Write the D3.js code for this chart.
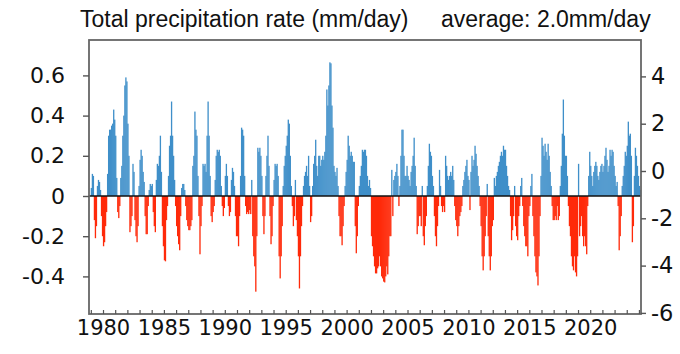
<!DOCTYPE html>
<html><head><meta charset="utf-8">
<script src="https://cdn.jsdelivr.net/npm/d3@7"></script>
<style>
html,body{margin:0;padding:0;background:#fff;}
svg{display:block;}
</style></head>
<body><svg id="c" width="680" height="354"></svg>
<script>
// ---- data ----
const startYear = 1979; // first month = Jan 1979
const titleLeft = "Total precipitation rate (mm/day)";
const titleRight = "average: 2.0mm/day";
const leftTicks = [-0.4, -0.2, 0, 0.2, 0.4, 0.6];
const rightTicks = [-6, -4, -2, 0, 2, 4];
const yearLabels = [1980, 1985, 1990, 1995, 2000, 2005, 2010, 2015, 2020];
// monthly anomalies (mm/day), one row per year
const y1979 = [0.04, 0.11, 0.1, -0.12, -0.21, -0.15, 0.05, 0.08, 0.07, 0.03, -0.1, -0.2];
const y1980 = [-0.25, -0.23, -0.15, -0.08, 0.11, 0.3, 0.33, 0.33, 0.35, 0.36, 0.43, 0.38];
const y1981 = [0.3, 0.09, -0.08, -0.11, -0.05, 0.09, 0.15, 0.3, 0.4, 0.55, 0.59, 0.57];
const y1982 = [0.36, 0.2, -0.18, -0.15, -0.1, 0.16, 0.12, -0.12, -0.2, -0.23, -0.15, 0.05];
const y1983 = [0.18, 0.23, 0.2, 0.12, 0.07, -0.1, -0.19, -0.19, -0.05, 0.03, 0.06, 0.05];
const y1984 = [0.06, -0.08, -0.15, -0.18, 0.08, 0.16, 0.15, 0.2, 0.3, 0.12, -0.15, -0.25];
const y1985 = [-0.32, -0.325, -0.12, -0.05, 0.1, 0.25, 0.3, 0.47, 0.3, 0.2, 0.08, -0.05];
const y1986 = [-0.15, -0.2, -0.24, -0.27, -0.1, 0.04, 0.06, 0.06, 0.03, -0.05, -0.12, -0.15];
const y1987 = [-0.17, -0.17, -0.15, -0.12, 0.15, 0.2, 0.42, 0.33, 0.3, 0.1, -0.1, -0.29];
const y1988 = [-0.15, -0.05, 0.16, 0.15, 0.16, 0.12, 0.3, 0.47, 0.3, 0.1, -0.1, -0.13];
const y1989 = [-0.08, -0.05, 0.08, 0.2, 0.23, 0.22, 0.23, 0.2, 0.05, -0.05, -0.1, -0.06];
const y1990 = [0.1, 0.16, 0.1, -0.05, -0.1, -0.08, 0.08, 0.14, 0.12, 0.05, -0.1, -0.2];
const y1991 = [-0.2, -0.25, -0.1, 0.1, 0.34, 0.33, 0.3, 0.1, -0.05, -0.09, -0.08, -0.09];
const y1992 = [-0.07, -0.09, 0.08, -0.2, -0.3, -0.35, -0.476, -0.2, 0.24, 0.22, 0.24, 0.2];
const y1993 = [0.1, -0.1, -0.19, -0.1, 0.1, 0.2, 0.3, 0.15, -0.1, -0.24, -0.2, -0.05];
const y1994 = [0.08, 0.16, 0.15, 0.16, 0.1, -0.3, -0.41, -0.3, -0.15, 0.05, 0.15, 0.2];
const y1995 = [0.25, 0.3, 0.38, 0.36, 0.2, 0.05, -0.05, -0.15, -0.1, 0.08, -0.12, -0.2];
const y1996 = [-0.3, -0.46, -0.3, -0.15, -0.05, 0.05, 0.1, 0.12, 0.15, 0.1, 0.2, 0.05];
const y1997 = [-0.13, -0.1, 0.05, 0.16, 0.2, 0.28, 0.15, 0.1, 0.2, 0.2, 0.15, 0.18];
const y1998 = [0.2, 0.18, 0.22, 0.3, 0.53, 0.45, 0.55, 0.665, 0.66, 0.45, 0.34, 0.15];
const y1999 = [0.12, 0.1, 0.14, 0.05, -0.1, -0.2, -0.2, -0.245, -0.15, -0.05, 0.05, 0.12];
const y2000 = [0.18, 0.3, 0.25, 0.2, 0.22, 0.2, 0.17, 0.17, -0.15, -0.285, -0.2, -0.05];
const y2001 = [0.05, 0.1, 0.15, 0.23, 0.22, 0.23, 0.23, 0.2, 0.1, 0.05, 0.08, 0.04];
const y2002 = [-0.2, -0.25, -0.3, -0.35, -0.385, -0.385, -0.36, -0.35, -0.3, -0.35, -0.4, -0.41];
const y2003 = [-0.426, -0.43, -0.4, -0.35, -0.39, -0.3, -0.2, -0.2, 0.13, -0.1, 0.08, 0.1];
const y2004 = [0.12, 0.16, 0.1, -0.05, 0.05, 0.2, 0.33, 0.33, 0.2, 0.1, 0.1, 0.15];
const y2005 = [0.1, 0.08, 0.05, 0.12, 0.15, 0.2, 0.29, 0.15, 0.05, -0.19, -0.15, -0.1];
const y2006 = [-0.1, -0.15, 0.05, -0.2, -0.245, -0.15, -0.1, 0.05, 0.15, 0.26, 0.22, 0.2];
const y2007 = [0.1, 0.05, -0.1, -0.2, -0.25, -0.15, -0.05, 0.13, 0.05, -0.05, -0.08, -0.05];
const y2008 = [-0.08, 0.2, 0.15, 0.1, 0.08, 0.1, 0.12, 0.1, 0.15, 0.08, -0.05, -0.12];
const y2009 = [-0.15, -0.2, -0.15, -0.1, -0.08, -0.05, 0.05, 0.08, 0.12, 0.15, 0.18, 0.1];
const y2010 = [0.08, -0.07, 0.12, 0.2, 0.15, 0.18, 0.25, 0.21, 0.15, 0.1, 0.05, -0.05];
const y2011 = [-0.15, -0.3, -0.37, -0.3, -0.2, -0.1, 0.06, -0.2, -0.3, -0.37, -0.3, -0.15];
const y2012 = [-0.12, 0.09, 0.05, 0.1, 0.12, 0.15, 0.17, 0.2, 0.22, 0.2, 0.25, 0.23];
const y2013 = [0.23, 0.15, 0.1, 0.05, 0.03, -0.1, -0.22, -0.17, -0.1, 0.05, -0.15, -0.2];
const y2014 = [-0.22, -0.1, -0.05, 0.05, 0.09, -0.05, -0.15, -0.2, -0.25, -0.25, -0.3, -0.1];
const y2015 = [-0.05, 0.05, 0.11, -0.1, -0.2, -0.3, -0.38, -0.4, -0.445, -0.3, -0.1, 0.1];
const y2016 = [0.29, 0.25, 0.2, 0.26, 0.22, 0.18, 0.26, 0.2, 0.12, 0.05, -0.05, -0.12];
const y2017 = [-0.12, -0.1, -0.12, -0.05, -0.12, -0.1, 0.05, 0.15, 0.31, 0.48, 0.3, 0.2];
const y2018 = [0.2, 0.1, -0.05, -0.15, -0.2, -0.3, -0.35, -0.37, -0.3, -0.38, -0.4, -0.3];
const y2019 = [0.16, -0.2, -0.15, -0.1, -0.2, -0.25, -0.2, -0.25, -0.29, -0.05, 0.1, 0.22];
const y2020 = [0.15, 0.1, 0.05, 0.12, 0.15, 0.17, 0.15, 0.1, 0.08, 0.12, 0.15, 0.16];
const y2021 = [0.12, 0.15, 0.2, 0.24, 0.18, 0.12, 0.15, 0.23, 0.2, 0.23, 0.22, 0.15];
const y2022 = [0.1, 0.05, 0.07, -0.05, -0.27, -0.2, -0.1, 0.05, 0.1, 0.15, 0.22, 0.2];
const y2023 = [0.25, 0.37, 0.3, 0.31, 0.2, -0.23, -0.15, 0.1, 0.24, 0.2, 0.15, 0.1];
const y2024 = [0.05, 0.03];

const years = [y1979,y1980,y1981,y1982,y1983,y1984,y1985,y1986,y1987,y1988,y1989,y1990,
  y1991,y1992,y1993,y1994,y1995,y1996,y1997,y1998,y1999,y2000,y2001,y2002,y2003,y2004,
  y2005,y2006,y2007,y2008,y2009,y2010,y2011,y2012,y2013,y2014,y2015,y2016,y2017,y2018,
  y2019,y2020,y2021,y2022,y2023,y2024];
const monthly = [];
years.forEach((arr, i) => arr.forEach((v, j) => monthly.push({t: startYear + i + j/12, v})));

// ---- layout ----
const L = 89, R = 641, T = 40, B = 314;
const svg = d3.select("#c");
const x = d3.scaleLinear().domain([1978.85, 2024.17]).range([L, R]);
const y = d3.scaleLinear().domain([-(B-196)/201, (196-T)/201]).range([B, T]);
const y2 = d3.scaleLinear().domain([-(B-171)/23.65, (171-T)/23.65]).range([B, T]);

const BLUE = "#3f8fc9", RED = "#ff2a0a";
const g = svg.append("g");
g.selectAll("rect.bar").data(monthly).join("rect")
  .attr("class","bar")
  .attr("x", d => x(d.t) - 0.1)
  .attr("width", d => x(d.t + 1/12) - x(d.t) + 0.3)
  .attr("y", d => d.v >= 0 ? y(d.v) : y(0))
  .attr("height", d => Math.abs(y(d.v) - y(0)))
  .attr("fill", d => d.v >= 0 ? BLUE : RED);

// zero line
svg.append("line").attr("x1", L).attr("x2", R).attr("y1", y(0)).attr("y2", y(0))
  .attr("stroke", "#111").attr("stroke-width", 1.6);

// frame
svg.append("rect").attr("x", L).attr("y", T).attr("width", R-L).attr("height", B-T)
  .attr("fill","none").attr("stroke","#666").attr("stroke-width",1.8);

const tickFont = "'DejaVu Sans', sans-serif";
// left axis
const ax = svg.append("g").attr("transform", `translate(${L},0)`)
  .call(d3.axisLeft(y).tickValues(leftTicks).tickSize(6).tickPadding(18)
    .tickFormat(d => d === 0 ? "0" : d3.format(".1f")(d).replace("−","-")));
ax.select(".domain").remove();
ax.selectAll("line").attr("stroke","#555").attr("stroke-width",1.4);
ax.selectAll("text").attr("font-family", tickFont).attr("font-size", 22).attr("fill","#111");

// right axis
const ar = svg.append("g").attr("transform", `translate(${R},0)`)
  .call(d3.axisRight(y2).tickValues(rightTicks).tickSize(5).tickPadding(5)
    .tickFormat(d => String(d)));
ar.select(".domain").remove();
ar.selectAll("line").attr("stroke","#555").attr("stroke-width",1.4);
ar.selectAll("text").attr("font-family", tickFont).attr("font-size", 22.5).attr("fill","#111");

// bottom axis: yearly inward ticks, labels every 5 years
const yearTicks = d3.range(1979, 2025);
const ab = svg.append("g").attr("transform", `translate(0,${B})`)
  .call(d3.axisBottom(x).tickValues(yearTicks).tickSize(-4).tickFormat(""));
ab.select(".domain").remove();
ab.selectAll("line").attr("stroke","#555").attr("stroke-width",1.2);
const abl = svg.append("g").attr("transform", `translate(0,${B})`)
  .call(d3.axisBottom(x).tickValues(yearLabels).tickSize(0).tickPadding(6).tickFormat(d3.format("d")));
abl.select(".domain").remove();
abl.selectAll("text").attr("font-family", tickFont).attr("font-size", 21).attr("fill","#111");

// titles
const titleFont = "'Liberation Sans', Arial, sans-serif";
svg.append("text").attr("x", 80).attr("y", 27).text(titleLeft)
  .attr("font-family", titleFont).attr("font-size", 23).attr("fill","#111");
svg.append("text").attr("x", 441).attr("y", 27).text(titleRight)
  .attr("font-family", titleFont).attr("font-size", 23).attr("fill","#111");
</script></body></html>
